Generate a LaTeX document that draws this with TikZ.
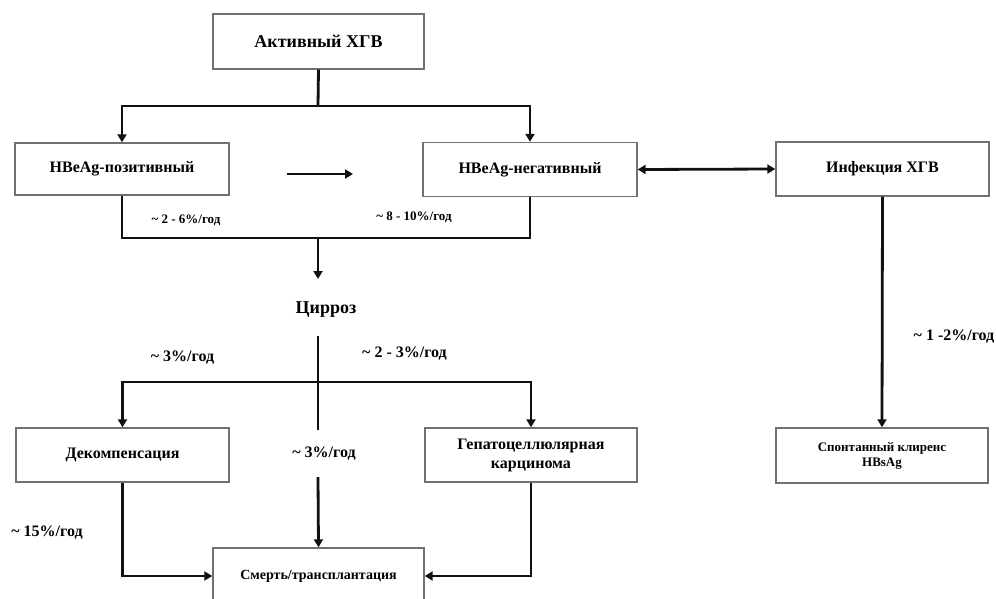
\documentclass[tikz,border=0pt]{standalone}
\usepackage{fontspec}
\setmainfont{Liberation Serif}
\usetikzlibrary{arrows.meta}
\definecolor{boxgray}{HTML}{707070}
\definecolor{linecol}{HTML}{111111}
\begin{document}
\begin{tikzpicture}[x=1pt,y=-1pt,
  box/.style={draw=boxgray,line width=1.4pt,rectangle,fill=white,inner sep=2pt,align=center,
    font=\bfseries\fontsize{16}{19}\selectfont},
  smallbox/.style={box,font=\bfseries\fontsize{14}{16}\selectfont},
  conn/.style={draw=linecol,line width=2.8pt},
  arr/.style={conn,-{Triangle[length=8pt,width=9pt]}},
  biarr/.style={conn,{Triangle[length=8pt,width=9pt]}-{Triangle[length=8pt,width=9pt]}},
  lab/.style={font=\bfseries\fontsize{16}{19}\selectfont,inner sep=1pt},
  slab/.style={font=\bfseries\fontsize{13}{16}\selectfont,inner sep=1pt}
]
\useasboundingbox[fill=white] (0,0) rectangle (996,599);

% boxes
\node[box,minimum width=211pt,minimum height=55pt,font=\bfseries\fontsize{18}{21}\selectfont] (act) at (318.5,41.5) {Активный ХГВ};
\node[box,minimum width=214pt,minimum height=52pt] (pos) at (122,169) {HBeAg-позитивный};
\node[box,minimum width=214pt,minimum height=54pt] (neg) at (530,169.5) {HBeAg-негативный};
\node[box,minimum width=213pt,minimum height=54pt] (inf) at (882.5,169) {Инфекция ХГВ};
\node[font=\bfseries\fontsize{18}{21}\selectfont,inner sep=1pt] (cir) at (326,310) {Цирроз};
\node[box,minimum width=213pt,minimum height=54pt] (dec) at (122.5,455) {Декомпенсация};
\node[box,minimum width=212pt,minimum height=54pt] (hcc) at (531,455) {Гепатоцеллюлярная\\карцинома};
\node[smallbox,minimum width=211pt,minimum height=56pt] (smert) at (318.5,576) {Смерть/трансплантация};
\node[smallbox,minimum width=212pt,minimum height=55pt,font=\bfseries\fontsize{13}{15}\selectfont] (spon) at (882,455.5) {Спонтанный клиренс\\HBsAg};

% coordinates
\coordinate (j1) at (318,106);
\coordinate (j2) at (318,238);
\coordinate (c1) at (318,279);
\coordinate (c2) at (318,336);
\coordinate (j3) at (318,382);
\coordinate (m1) at (287,174);
\coordinate (m2) at (353,174);

% connectors top
\draw[conn] (act.south) -- (j1);
\draw[arr] (j1) -| (pos.north);
\draw[arr] (j1) -| (neg.north);
\draw[arr] (m1) -- (m2);
\draw[biarr] (neg.east) -- (inf.west);
\draw[conn] (pos.south) |- (j2);
\draw[conn] (neg.south) |- (j2);
\draw[arr] (j2) -- (c1);

% cirrhosis branches
\draw[conn] (c2) -- (j3);
\draw[arr] (j3) -| (dec.north);
\draw[arr] (j3) -| (hcc.north);
\node[lab,minimum height=47pt] (l3) at (324,453.5) {\textasciitilde{} 3\%/год};
\draw[conn] (j3) -- (j3 |- l3.north);
\draw[arr] (j3 |- l3.south) -- (smert.north);
\draw[arr] (dec.south) |- (smert.west);
\draw[arr] (hcc.south) |- (smert.east);
\draw[arr] (inf.south) -- (spon.north);

% labels
\node[slab] (l1) at (186,220) {\textasciitilde{} 2 - 6\%/год};
\node[slab] (l2) at (414,217) {\textasciitilde{} 8 - 10\%/год};
\node[lab] (l4) at (182.5,358) {\textasciitilde{} 3\%/год};
\node[lab] (l5) at (404.5,354) {\textasciitilde{} 2 - 3\%/год};
\node[lab] (l6) at (47,533) {\textasciitilde{} 15\%/год};
\node[lab] (l7) at (954,337) {\textasciitilde{} 1 -2\%/год};
\end{tikzpicture}
\end{document}
